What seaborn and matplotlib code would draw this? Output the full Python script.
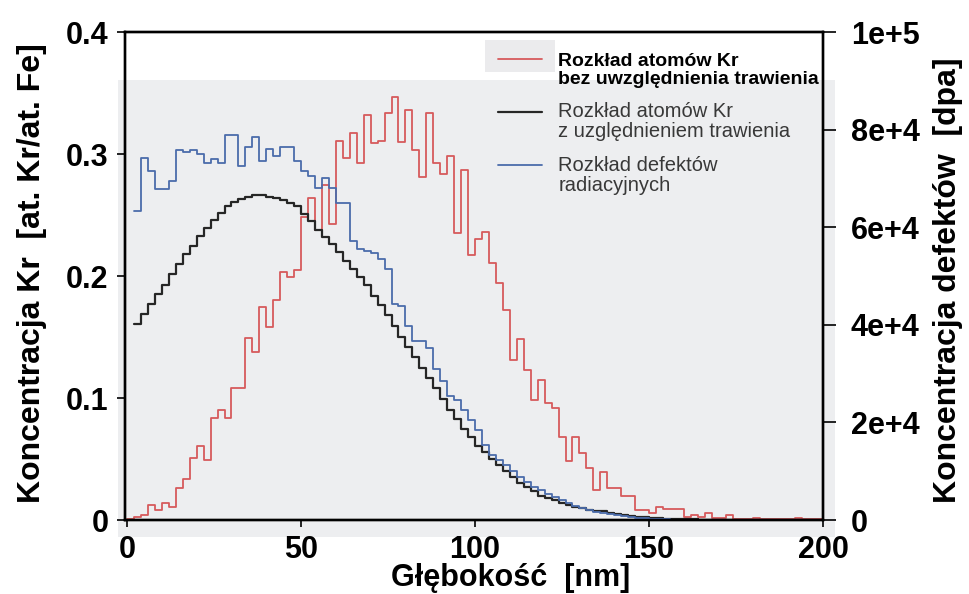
import numpy as np
import pandas as pd
import matplotlib
matplotlib.use("Agg")
import matplotlib.pyplot as plt
import seaborn as sns
from matplotlib.patches import Rectangle

# ---------------- data ----------------
BIN_WIDTH = 2          # nm
KR_START = 0           # first bin edge of red histogram [nm]
OTHER_START = 2        # first bin edge of black / blue histograms [nm]

# Kr atoms without etching [at. Kr/at. Fe], bins 0-2, 2-4, ... 198-200 nm
kr_no_etch = [
    0.001, 0.0025, 0.004, 0.012, 0.008, 0.014, 0.011, 0.026, 0.034, 0.051,
    0.061, 0.049, 0.084, 0.090, 0.084, 0.108, 0.108, 0.149, 0.138, 0.175,
    0.158, 0.180, 0.203, 0.199, 0.205, 0.248, 0.264, 0.238, 0.275, 0.243,
    0.311, 0.297, 0.317, 0.293, 0.332, 0.309, 0.311, 0.334, 0.347, 0.310,
    0.336, 0.303, 0.281, 0.334, 0.293, 0.284, 0.298, 0.235, 0.287, 0.217,
    0.230, 0.236, 0.211, 0.194, 0.172, 0.131, 0.148, 0.123, 0.098, 0.115,
    0.096, 0.092, 0.068, 0.048, 0.068, 0.055, 0.043, 0.025, 0.039, 0.026,
    0.026, 0.020, 0.020, 0.008, 0.008, 0.006, 0.011, 0.009, 0.009, 0.009,
    0.0025, 0.004, 0.0025, 0.006, 0.0015, 0.0015, 0.004, 0.001, 0.001, 0.001,
    0.0015, 0.0005, 0.0005, 0.0005, 0.0005, 0.0005, 0.0015, 0.0005, 0.0005, 0.0005,
]

# Kr atoms with etching [at. Kr/at. Fe], bins 2-4, ... 198-200 nm
kr_etch = [
    0.161, 0.169, 0.177, 0.185, 0.193, 0.202, 0.210, 0.218, 0.225, 0.233,
    0.239, 0.246, 0.252, 0.257, 0.261, 0.263, 0.265, 0.266, 0.266, 0.265,
    0.264, 0.262, 0.260, 0.257, 0.251, 0.245, 0.238, 0.232, 0.226, 0.220,
    0.212, 0.206, 0.199, 0.193, 0.184, 0.176, 0.168, 0.159, 0.150, 0.142,
    0.134, 0.125, 0.116, 0.108, 0.099, 0.090, 0.083, 0.075, 0.068, 0.061,
    0.056, 0.050, 0.045, 0.040, 0.035, 0.030, 0.027, 0.024, 0.020, 0.018,
    0.016, 0.014, 0.012, 0.011, 0.010, 0.008, 0.007, 0.007, 0.006, 0.005,
    0.004, 0.003, 0.0025, 0.0025, 0.0016, 0.0016, 0.0010, 0.0010, 0.0008, 0.0006,
    0.0005, 0.0004, 0.0003, 0.0003, 0.0002, 0.0002, 0.0002, 0.0001, 0.0001, 0.0001,
    0.0001, 0.0001, 0.0001, 0.0001, 0.0001, 0.0001, 0.0001, 0.0001, 0.0001,
]

# radiation defects [dpa], bins 2-4, ... 198-200 nm
defects = [
    63270, 74090, 71430, 67760, 67760, 69390, 75920, 75510, 75920, 75100,
    73060, 73880, 73060, 78980, 78980, 72450, 76530, 78570, 73470, 76120,
    74490, 76530, 76530, 73470, 71430, 70410, 67960, 70000, 67960, 64900,
    64900, 57140, 55510, 55100, 54690, 53470, 51430, 44290, 43880, 39800,
    36730, 36730, 35300, 31020, 28570, 25510, 24490, 22450, 20410, 18370,
    15310, 13270, 12240, 11220, 10000, 8780, 7760, 6730, 6120, 5310,
    4690, 4080, 3470, 2860, 2450, 2040, 1630, 1430, 1220, 1020,
    820, 610, 410, 410, 200, 150, 120, 100, 80, 60,
    50, 40, 30, 30, 20, 20, 20, 10, 10, 10,
    10, 10, 10, 10, 10, 10, 10, 10, 10,
]

x_ticks = [0, 50, 100, 150, 200]
x_tick_labels = ["0", "50", "100", "150", "200"]
left_ticks = [0, 0.1, 0.2, 0.3, 0.4]
left_tick_labels = ["0", "0.1", "0.2", "0.3", "0.4"]
right_ticks = [0, 2e4, 4e4, 6e4, 8e4, 1e5]
right_tick_labels = ["0", "2e+4", "4e+4", "6e+4", "8e+4", "1e+5"]

labels = [
    "Rozkład atomów Kr\nbez uwzględnienia trawienia",
    "Rozkład atomów Kr\nz uzględnieniem trawienia",
    "Rozkład defektów\nradiacyjnych",
]
xlabel = "Głębokość  [nm]"
ylabel_left = "Koncentracja Kr  [at. Kr/at. Fe]"
ylabel_right = "Koncentracja defektów  [dpa]"

RED = "#d65a5c"
BLACK = "#262626"
BLUE = "#4b6cab"


def step_frame(start, vals):
    edges = start + BIN_WIDTH * np.arange(len(vals) + 1)
    return pd.DataFrame({"x": edges, "y": list(vals) + [vals[-1]]})


# ---------------- style ----------------
sns.set_theme(style="white")
plt.rcParams["font.family"] = ["Liberation Sans", "DejaVu Sans"]
plt.rcParams["font.weight"] = "bold"
plt.rcParams["axes.labelweight"] = "bold"

W, H = 969, 594
fig = plt.figure(figsize=(W / 100, H / 100), dpi=100)
fig.patch.set_facecolor("white")

# scanned grey background of the plotting region
fig.add_artist(Rectangle((118 / W, 1 - 537 / H), (835 - 118) / W, (537 - 80) / H,
                         transform=fig.transFigure, facecolor="#edeef0",
                         edgecolor="none", zorder=-2))
fig.add_artist(Rectangle((485 / W, 1 - 72 / H), (555 - 485) / W, (72 - 40) / H,
                         transform=fig.transFigure, facecolor="#ebebed",
                         edgecolor="none", zorder=-2))

ax = fig.add_axes([125 / W, 1 - 520 / H, 698 / W, 488 / H])
ax.set_facecolor("none")

sns.lineplot(data=step_frame(KR_START, kr_no_etch), x="x", y="y", ax=ax,
             drawstyle="steps-post", color=RED, lw=1.3, label=labels[0],
             legend=False)
sns.lineplot(data=step_frame(OTHER_START, kr_etch), x="x", y="y", ax=ax,
             drawstyle="steps-post", color=BLACK, lw=1.6, label=labels[1],
             legend=False)

ax2 = ax.twinx()
ax2.set_facecolor("none")
sns.lineplot(data=step_frame(OTHER_START, defects), x="x", y="y", ax=ax2,
             drawstyle="steps-post", color=BLUE, lw=1.3, label=labels[2],
             legend=False)

ax.set_xlim(-0.6, 200)
ax.set_ylim(0, 0.4)
ax2.set_ylim(0, 1e5)

ax.set_xticks(x_ticks)
ax.set_xticklabels(x_tick_labels)
ax.set_yticks(left_ticks)
ax.set_yticklabels(left_tick_labels)
ax2.set_yticks(right_ticks)
ax2.set_yticklabels(right_tick_labels)

for a in (ax, ax2):
    for s in a.spines.values():
        s.set_color("black")
        s.set_linewidth(1.7)
        s.set_visible(True)

ax.tick_params(axis="x", bottom=True, direction="out", length=5, width=1.2,
               pad=6, labelsize=22, colors="black")
ax.tick_params(axis="y", left=True, direction="out", length=6, width=1.2,
               pad=6, labelsize=22, colors="black")
ax2.tick_params(axis="y", right=True, direction="out", length=9, width=1.2,
                pad=11, labelsize=22, colors="black")

ax.set_xlabel(xlabel, fontsize=22, fontweight="bold", color="black")
ax.xaxis.set_label_coords(0.552, -0.088)
ax.set_ylabel(ylabel_left, fontsize=23, fontweight="bold", color="black")
ax.yaxis.set_label_coords(-0.112, 0.505)
ax2.set_ylabel(ylabel_right, fontsize=23, fontweight="bold", color="black")
ax2.yaxis.set_label_coords(1.158, 0.492)

handles = [ax.get_lines()[0], ax.get_lines()[1], ax2.get_lines()[0]]
leg = ax2.legend(handles, labels, loc="upper left",
                 bbox_to_anchor=(0.534, 0.957), frameon=False, borderpad=0,
                 borderaxespad=0, handlelength=2.2, handletextpad=0.8,
                 labelspacing=0.72, fontsize=14.5)
texts = leg.get_texts()
for i, t in enumerate(texts):
    t.set_linespacing(1.06)
    if i == 0:
        t.set_fontweight("bold")
        t.set_fontsize(14)
        t.set_color("black")
    else:
        t.set_fontweight("normal")
        t.set_color("#383838")
for ln in leg.get_lines():
    ln.set_ydata(np.asarray(ln.get_ydata(), dtype=float) + 7.5)

fig.savefig("out.png", dpi=100)
